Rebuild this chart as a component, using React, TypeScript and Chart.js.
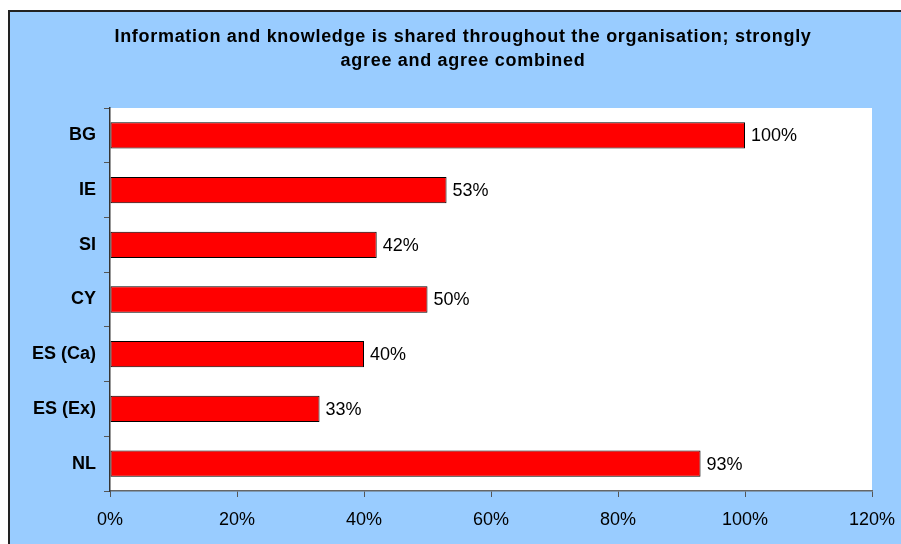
import React, { useEffect, useRef } from "react";
import { Chart, registerables } from "chart.js";

Chart.register(...registerables);

const TITLE_LINES = [
  "Information and knowledge is shared throughout the organisation; strongly",
  "agree and agree combined",
];
const CATEGORIES = ["BG", "IE", "SI", "CY", "ES (Ca)", "ES (Ex)", "NL"];
const VALUES = [100, 53, 42, 50, 40, 33, 93];
const X_TICKS = [0, 20, 40, 60, 80, 100, 120];

const FONT = "'Liberation Sans', Arial, sans-serif";
const BLUE = "#99CCFF";

const framePlugin = {
  id: "frame",
  beforeDraw(chart: any) {
    const { ctx, width, height } = chart;
    ctx.save();
    ctx.fillStyle = "#ffffff";
    ctx.fillRect(0, 0, width, height);
    ctx.fillStyle = BLUE;
    ctx.fillRect(9, 11, width - 9, height - 11);
    ctx.strokeStyle = "#222222";
    ctx.lineWidth = 2;
    ctx.beginPath();
    ctx.moveTo(9, height);
    ctx.lineTo(9, 11);
    ctx.lineTo(width, 11);
    ctx.stroke();
    const a = chart.chartArea;
    ctx.fillStyle = "#ffffff";
    ctx.fillRect(a.left, a.top, a.right - a.left, a.bottom - a.top);
    // title
    ctx.fillStyle = "#000000";
    ctx.font = `bold 18px ${FONT}`;
    (ctx as any).letterSpacing = "0.7px";
    ctx.textAlign = "center";
    ctx.textBaseline = "middle";
    ctx.fillText(TITLE_LINES[0], 463, 37);
    ctx.fillText(TITLE_LINES[1], 463, 61);
    ctx.restore();
  },
};

const labelPlugin = {
  id: "barLabels",
  afterDatasetsDraw(chart: any) {
    const { ctx } = chart;
    const meta = chart.getDatasetMeta(0);
    ctx.save();
    ctx.fillStyle = "#000000";
    ctx.font = `18px ${FONT}`;
    ctx.textAlign = "left";
    ctx.textBaseline = "middle";
    meta.data.forEach((el: any, i: number) => {
      ctx.fillText(`${VALUES[i]}%`, el.x + 6, el.y + 1);
    });
    ctx.restore();
  },
};

export default function App() {
  const ref = useRef<HTMLCanvasElement | null>(null);
  useEffect(() => {
    if (!ref.current) return;
    const chart = new Chart(ref.current, {
      type: "bar",
      data: {
        labels: CATEGORIES,
        datasets: [
          {
            data: VALUES,
            backgroundColor: "#FF0000",
            borderColor: "#000000",
            borderWidth: 1,
            borderSkipped: false,
            categoryPercentage: 1,
            barPercentage: 0.48,
          },
        ],
      },
      options: {
        indexAxis: "y",
        animation: false,
        responsive: false,
        maintainAspectRatio: false,
        layout: { padding: { top: 108, left: 0, right: 29, bottom: 0 } },
        plugins: {
          legend: { display: false },
          title: { display: false },
          tooltip: { enabled: false },
        },
        scales: {
          x: {
            min: 0,
            max: 120,
            afterFit(scale: any) {
              scale.height = 53;
              scale.paddingLeft = 0;
              scale.paddingRight = 0;
            },
            afterBuildTicks(scale: any) {
              scale.ticks = X_TICKS.map((v) => ({ value: v }));
            },
            ticks: {
              color: "#000000",
              font: { family: FONT, size: 18 },
              padding: 12,
              callback: (v: any) => `${v}%`,
            },
            grid: {
              drawOnChartArea: false,
              drawTicks: true,
              tickLength: 6,
              color: "#555555",
            },
            border: { color: "#666666", width: 1.5 },
          },
          y: {
            afterFit(scale: any) {
              scale.width = 110;
              scale.paddingTop = 0;
              scale.paddingBottom = 0;
            },
            ticks: {
              color: "#000000",
              font: { family: FONT, size: 18, weight: "bold" },
              padding: 8,
            },
            grid: {
              offset: true,
              drawOnChartArea: false,
              drawTicks: true,
              tickLength: 6,
              color: "#555555",
            },
            border: { color: "#333333", width: 1.5 },
          },
        },
      },
      plugins: [framePlugin, labelPlugin],
    });
    return () => chart.destroy();
  }, []);
  return (
    <div style={{ position: "fixed", left: 0, top: 0, width: 901, height: 544 }}>
      <canvas ref={ref} width={901} height={544} style={{ width: 901, height: 544, display: "block" }} />
    </div>
  );
}
